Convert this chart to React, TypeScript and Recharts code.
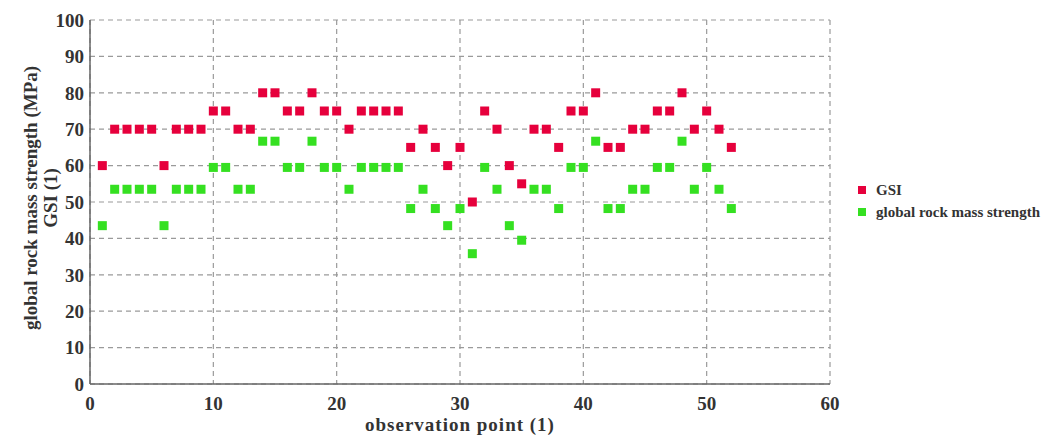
import React from 'react';
import { ScatterChart, Scatter, XAxis, YAxis, CartesianGrid, Legend } from 'recharts';

// observation points
const points = [
  1, 2, 3, 4, 5, 6, 7, 8, 9, 10, 11, 12, 13, 14, 15, 16, 17, 18, 19, 20, 21, 22, 23, 24, 25, 26,
  27, 28, 29, 30, 31, 32, 33, 34, 35, 36, 37, 38, 39, 40, 41, 42, 43, 44, 45, 46, 47, 48, 49, 50, 51, 52,
];

const gsi = [
  60, 70, 70, 70, 70, 60, 70, 70, 70, 75, 75, 70, 70, 80, 80, 75, 75, 80, 75, 75, 70, 75, 75, 75, 75, 65,
  70, 65, 60, 65, 50, 75, 70, 60, 55, 70, 70, 65, 75, 75, 80, 65, 65, 70, 70, 75, 75, 80, 70, 75, 70, 65,
];

const strength = [
  43.5, 53.5, 53.5, 53.5, 53.5, 43.5, 53.5, 53.5, 53.5, 59.5, 59.5, 53.5, 53.5, 66.7, 66.7, 59.5, 59.5,
  66.7, 59.5, 59.5, 53.5, 59.5, 59.5, 59.5, 59.5, 48.2, 53.5, 48.2, 43.5, 48.2, 35.8, 59.5, 53.5, 43.5,
  39.5, 53.5, 53.5, 48.2, 59.5, 59.5, 66.7, 48.2, 48.2, 53.5, 53.5, 59.5, 59.5, 66.7, 53.5, 59.5, 53.5, 48.2,
];

const xTicks = [0, 10, 20, 30, 40, 50, 60];
const yTicks = [0, 10, 20, 30, 40, 50, 60, 70, 80, 90, 100];

const gsiData = points.map((x, i) => ({ x, y: gsi[i] }));
const strengthData = points.map((x, i) => ({ x, y: strength[i] }));

const FONT = '"Liberation Serif", serif';
const RED = '#e6003c';
const GREEN = '#35e021';

const square = (color: string) => (props: any) => {
  const { cx, cy } = props;
  if (cx == null || cy == null) return <g />;
  return <rect x={cx - 4.5} y={cy - 4.5} width={9} height={9} fill={color} />;
};

// two-line rotated y title, fixed at the chart's left edge
const YTitle = () => {
  const cy = 190;
  return (
    <g fontFamily={FONT} fontWeight="bold" fontSize={19} fill="#333">
      <text x={22} y={cy} transform={`rotate(-90 22 ${cy})`} textAnchor="middle" dominantBaseline="central">
        global rock mass strength (MPa)
      </text>
      <text x={42} y={cy} transform={`rotate(-90 42 ${cy})`} textAnchor="middle" dominantBaseline="central">
        GSI (1)
      </text>
    </g>
  );
};

const LegendBox = (props: any) => {
  const items = props.payload || [];
  return (
    <div style={{ fontFamily: FONT, fontWeight: 'bold', fontSize: 15, color: '#333', whiteSpace: 'nowrap' }}>
      {items.map((p: any) => (
        <div key={p.value} style={{ display: 'flex', alignItems: 'center', height: 22 }}>
          <span style={{ width: 8, height: 8, background: p.color, display: 'inline-block', marginRight: 10 }} />
          <span>{p.value}</span>
        </div>
      ))}
    </div>
  );
};

export default function App() {
  return (
    <div>
      <style>{'body{overflow:hidden}'}</style>
      <ScatterChart width={1049} height={429} margin={{ top: 12, right: 227, left: 0, bottom: 0 }}>
        <CartesianGrid stroke="#9a9a9a" strokeDasharray="5 4" strokeWidth={1.2} />
        <XAxis
          type="number"
          dataKey="x"
          domain={[0, 60]}
          ticks={xTicks}
          height={53}
          tickLine={false}
          tickSize={0}
          tickMargin={13}
          stroke="#666"
          strokeWidth={1.5}
          tick={{ fontFamily: FONT, fontWeight: 'bold', fontSize: 19, fill: '#333' }}
          label={{
            value: 'observation point (1)',
            position: 'insideBottom',
            offset: 6,
            style: { fontFamily: FONT, fontWeight: 'bold', fontSize: 19, letterSpacing: 1, fill: '#333' },
          }}
        />
        <YAxis
          type="number"
          dataKey="y"
          domain={[0, 100]}
          ticks={yTicks}
          width={82}
          tickLine={false}
          tickSize={0}
          tickMargin={6}
          stroke="#666"
          strokeWidth={1.5}
          tick={{ fontFamily: FONT, fontWeight: 'bold', fontSize: 19, fill: '#333' }}
          label={<YTitle />}
        />
        <Legend
          layout="vertical"
          align="center"
          verticalAlign="middle"
          content={<LegendBox />}
          wrapperStyle={{ left: 850, top: 171, width: 190 }}
        />
        <Scatter name="GSI" data={gsiData} fill={RED} shape={square(RED)} isAnimationActive={false} />
        <Scatter
          name="global rock mass strength"
          data={strengthData}
          fill={GREEN}
          shape={square(GREEN)}
          isAnimationActive={false}
        />
      </ScatterChart>
    </div>
  );
}
